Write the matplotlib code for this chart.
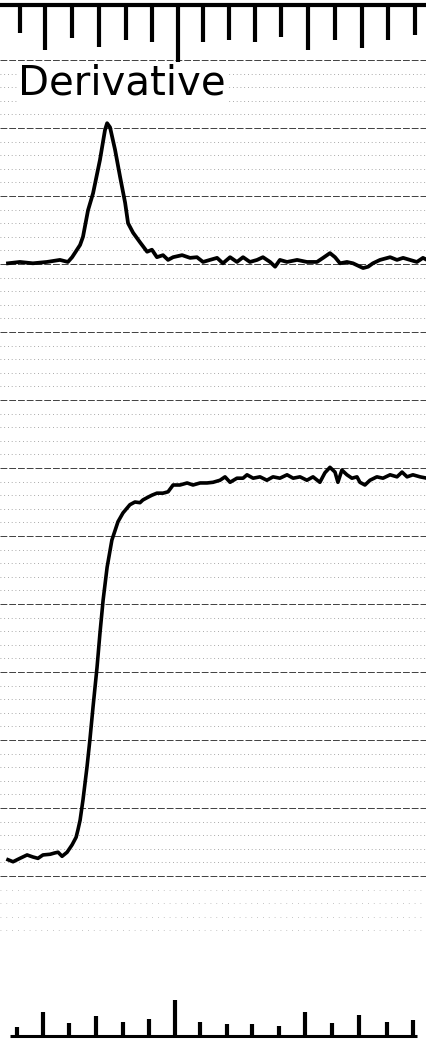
import numpy as np
import matplotlib
matplotlib.use("Agg")
import matplotlib.pyplot as plt

# x in chart divisions (one per timing tick), y in major grid divisions

# derivative trace
deriv_t = [-0.34, 0.11, 0.60, 1.13, 1.62, 1.92, 2.08, 2.38, 2.49, 2.68, 2.87, 3.13, 3.32,
           3.40, 3.51, 3.70, 3.89, 4.08, 4.19, 4.38, 4.64, 4.91, 5.09, 5.28, 5.51, 5.70,
           5.89, 6.23, 6.53, 6.79, 7.02, 7.28, 7.55, 7.77, 8.04, 8.30, 8.53, 8.79, 9.06,
           9.28, 9.55, 9.74, 9.92, 10.19, 10.57, 10.94, 11.32, 11.55, 11.81, 12.00, 12.19,
           12.45, 12.68, 13.06, 13.25, 13.43, 13.70, 14.08, 14.34, 14.57, 14.83, 15.09,
           15.32, 15.47]
deriv_v = [9.01, 9.03, 9.01, 9.03, 9.06, 9.03, 9.10, 9.28, 9.40, 9.79, 10.04, 10.53, 10.97,
           11.07, 11.01, 10.68, 10.28, 9.90, 9.60, 9.46, 9.32, 9.18, 9.21, 9.10, 9.13, 9.06,
           9.10, 9.13, 9.09, 9.10, 9.03, 9.06, 9.09, 9.01, 9.10, 9.03, 9.10, 9.03, 9.06,
           9.10, 9.03, 8.96, 9.06, 9.03, 9.06, 9.03, 9.03, 9.09, 9.16, 9.10, 9.01,
           9.03, 9.01, 8.94, 8.96, 9.01, 9.06, 9.10, 9.06, 9.09, 9.06, 9.03,
           9.09, 9.06]

# integral (sigmoid) trace
integ_t = [-0.34, -0.15, 0.11, 0.38, 0.60, 0.79, 0.98, 1.25, 1.43, 1.55, 1.70, 1.89, 2.08,
           2.23, 2.30, 2.38, 2.49, 2.64, 2.75, 2.87, 3.02, 3.13, 3.25, 3.40, 3.58, 3.81,
           4.00, 4.26, 4.45, 4.64, 4.75, 4.94, 5.09, 5.28, 5.51, 5.70, 5.89, 6.15, 6.42,
           6.64, 6.91, 7.17, 7.40, 7.66, 7.85, 8.04, 8.30, 8.53, 8.68, 8.91, 9.17, 9.43,
           9.66, 9.92, 10.19, 10.42, 10.68, 10.94, 11.17, 11.43, 11.62, 11.81, 12.00,
           12.11, 12.26, 12.45, 12.64, 12.83, 12.94, 13.13, 13.32, 13.58, 13.81, 14.08,
           14.34, 14.53, 14.72, 14.94, 15.21, 15.47]
integ_v = [0.24, 0.21, 0.26, 0.31, 0.28, 0.26, 0.31, 0.32, 0.34, 0.35, 0.29, 0.35, 0.46,
           0.57, 0.68, 0.82, 1.12, 1.60, 2.00, 2.49, 3.07, 3.57, 4.06, 4.54, 4.94, 5.21,
           5.34, 5.46, 5.50, 5.49, 5.53, 5.57, 5.60, 5.63, 5.63, 5.65, 5.75, 5.75, 5.78,
           5.75, 5.78, 5.78, 5.79, 5.82, 5.87, 5.79, 5.85, 5.85, 5.90, 5.85, 5.87, 5.82,
           5.87, 5.85, 5.90, 5.85, 5.87, 5.82, 5.87, 5.79, 5.93, 6.01, 5.94,
           5.79, 5.97, 5.90, 5.85, 5.87, 5.79, 5.75, 5.82, 5.87, 5.85, 5.90,
           5.87, 5.94, 5.87, 5.90, 5.87, 5.85]

# timing marks along top edge (hanging) and bottom edge (standing)
top_tick_t = [0.11, 1.06, 2.08, 3.09, 4.11, 5.09, 6.08, 7.02, 8.00, 8.98, 9.96, 10.98,
              12.00, 13.02, 14.00, 15.02]
top_tick_len = [0.41, 0.66, 0.49, 0.62, 0.51, 0.54, 0.84, 0.54, 0.51, 0.54, 0.47, 0.66,
                0.51, 0.63, 0.51, 0.44]
bot_tick_t = [0.00, 0.98, 1.96, 2.98, 4.00, 4.98, 5.96, 6.91, 7.92, 8.87, 9.89, 10.87,
              11.89, 12.91, 13.96, 14.94]
bot_tick_len = [0.13, 0.35, 0.19, 0.29, 0.21, 0.25, 0.53, 0.21, 0.18, 0.18, 0.15, 0.35,
                0.19, 0.31, 0.21, 0.24]

top_base = 12.81
bot_base = -2.35
major_rows = list(range(0, 13))
label = "Derivative"

fig = plt.figure(figsize=(4.27, 10.41), dpi=100)
ax = fig.add_axes([0, 0, 1, 1])
ax.set_xlim(-0.642, 15.472)
ax.set_ylim(-2.426, 12.882)
ax.axis("off")

# chart paper grid
for r in major_rows:
    ax.axhline(r, color="black", lw=0.7, ls=(0, (7, 2)), alpha=0.75, zorder=1)
    if r < 12:
        for k in range(1, 5):
            ax.axhline(r + k * 0.2, color="black", lw=0.6, ls=(0, (1, 3.5)),
                       alpha=0.45, zorder=1)
for k in range(1, 5):
    ax.axhline(-k * 0.2, color="black", lw=0.6, ls=(0, (1, 6)), alpha=0.3, zorder=1)

# timing marks
ax.axhline(top_base, color="black", lw=3, zorder=3)
ax.vlines(top_tick_t, [top_base - l for l in top_tick_len], top_base,
          color="black", lw=3, zorder=3)
ax.hlines(bot_base, -0.26, 15.09, color="black", lw=2.2, zorder=3)
ax.vlines(bot_tick_t, bot_base, [bot_base + l for l in bot_tick_len],
          color="black", lw=3, zorder=3)

# traces
ax.plot(deriv_t, deriv_v, color="black", lw=2.7, solid_joinstyle="round", zorder=4)
ax.plot(integ_t, integ_v, color="black", lw=2.6, solid_joinstyle="round", zorder=4)

ax.text(0.04, 11.49, label, fontsize=29, color="black", va="baseline", ha="left",
        family="DejaVu Sans", zorder=5,
        bbox=dict(facecolor="white", edgecolor="none", pad=1))

fig.savefig("out.png", dpi=100)
